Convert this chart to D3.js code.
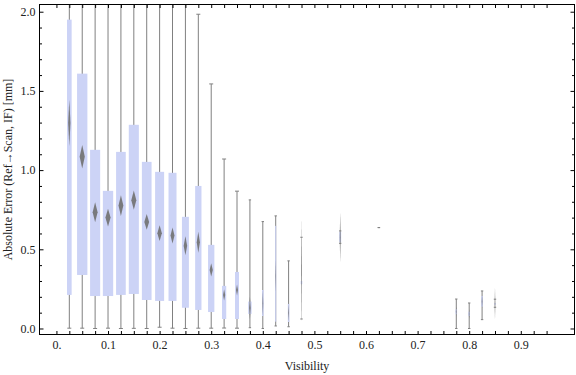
<!DOCTYPE html>
<html>
<head>
<meta charset="utf-8">
<script src="https://cdn.jsdelivr.net/npm/d3@7"></script>
<style>
  body { margin: 0; background: #fff; }
  text { font-family: "Liberation Serif", "Times New Roman", serif; font-size: 12px; fill: #222; }
</style>
</head>
<body>
<script>
// visibility bins (box centres)
var visibility = [0.025, 0.05, 0.075, 0.1, 0.125, 0.15, 0.175, 0.2, 0.225, 0.25,
    0.275, 0.3, 0.325, 0.35, 0.375, 0.4, 0.425, 0.45, 0.475, 0.55,
    0.625, 0.775, 0.8, 0.825, 0.85];

var minVal = [0.002, 0.002, 0.0, 0.002, 0.0, 0.001, 0.0, 0.008, 0.002, 0.0,
    0.002, 0.002, 0.003, 0.002, 0.005, 0.0, 0.016, 0.011, 0.06, 0.538,
    0.637, 0.0, 0.0, 0.056, 0.134];
var q1Val = [0.212, 0.338, 0.205, 0.205, 0.212, 0.218, 0.18, 0.174, 0.174, 0.131,
    0.117, 0.104, 0.06, 0.06, 0.092, 0.079, 0.043, 0.041, 0.28, 0.545,
    0.637, 0.09, 0.079, 0.138, 0.15];
var q3Val = [1.95, 1.609, 1.128, 0.869, 1.115, 1.286, 1.052, 0.989, 0.983, 0.705,
    0.90, 0.528, 0.269, 0.357, 0.17, 0.243, 0.648, 0.155, 0.30, 0.61,
    0.637, 0.121, 0.106, 0.205, 0.16];
var maxVal = [3.2, 2.9, 2.6, 2.5, 2.7, 2.8, 2.4, 2.3, 2.2, 2.1,
    1.984, 1.544, 1.07, 0.867, 0.812, 0.675, 0.711, 0.427, 0.576, 0.616,
    0.637, 0.186, 0.161, 0.237, 0.185];
// mean and half-width of its 95% confidence interval (diamond)
var meanVal = [1.297, 1.084, 0.734, 0.70, 0.776, 0.81, 0.673, 0.602, 0.587, 0.523,
    0.545, 0.37, 0.212, 0.243, 0.13, 0.16, 0.33, 0.10, 0.368, 0.575,
    0.637, 0.105, 0.092, 0.17, 0.157];
var meanCI = [0.147, 0.074, 0.063, 0.056, 0.065, 0.061, 0.05, 0.05, 0.05, 0.06,
    0.066, 0.042, 0.035, 0.035, 0.07, 0.08, 0.10, 0.06, 0.335, 0.159,
    0, 0.03, 0.03, 0.04, 0.099];
// relative sample weight -> box width
var weight = [0.36, 0.80, 0.78, 0.80, 0.75, 0.78, 0.75, 0.70, 0.62, 0.54,
    0.49, 0.49, 0.33, 0.31, 0.26, 0.12, 0.08, 0.12, 0.12, 0.15,
    0.15, 0.12, 0.12, 0.12, 0.12];
// whisker opacity (sparse bins drawn faint)
var whiskerAlpha = [1, 1, 1, 1, 1, 1, 1, 1, 1, 1,
    1, 1, 1, 1, 1, 1, 1, 1, 0.2, 0.2,
    1, 1, 1, 1, 0.2];

var xLabelTicks = [0, 0.1, 0.2, 0.3, 0.4, 0.5, 0.6, 0.7, 0.8, 0.9];
var yMajorTicks = [0, 0.5, 1.0, 1.5, 2.0];

var svgWidth = 576;
var svgHeight = 375;

var frame = { left: 39.5, right: 574.5, top: 4.5, bottom: 334.5 };

var data = visibility.map(function(v, i) {
    return { x: v, min: minVal[i], q1: q1Val[i], q3: q3Val[i], max: maxVal[i],
        mean: meanVal[i], ci: meanCI[i], w: weight[i], wa: whiskerAlpha[i] };
});

var xScale = d3.scaleLinear()
    .domain([-0.0328, 1.0041])
    .range([frame.left, frame.right]);

var yScale = d3.scaleLinear()
    .domain([-0.0379, 2.0455])
    .range([frame.bottom, frame.top]);

var spacing = xScale(0.025) - xScale(0);
var widthScale = d3.scaleLinear().domain([0, 1]).range([0, spacing]);

var svg = d3.select('body')
    .append('svg')
    .attr('width', svgWidth)
    .attr('height', svgHeight);

svg.append('clipPath')
    .attr('id', 'plotClip')
    .append('rect')
    .attr('x', frame.left)
    .attr('y', frame.top)
    .attr('width', frame.right - frame.left)
    .attr('height', frame.bottom - frame.top);

var plot = svg.append('g').attr('clip-path', 'url(#plotClip)');

var boxes = plot.selectAll('g.box')
    .data(data)
    .enter()
    .append('g')
    .attr('class', 'box');

// whiskers
boxes.append('line')
    .attr('x1', d => xScale(d.x))
    .attr('x2', d => xScale(d.x))
    .attr('y1', d => yScale(d.min))
    .attr('y2', d => yScale(d.max))
    .attr('stroke', '#808080')
    .attr('stroke-opacity', d => d.wa)
    .attr('stroke-width', 1);

// fences
[['min'], ['max']].forEach(function(k) {
    boxes.append('line')
        .attr('x1', d => xScale(d.x) - (d.w >= 0.3 ? 2 : 1.2))
        .attr('x2', d => xScale(d.x) + (d.w >= 0.3 ? 2 : 1.2))
        .attr('y1', d => yScale(d[k[0]]))
        .attr('y2', d => yScale(d[k[0]]))
        .attr('stroke', '#808080')
        .attr('stroke-width', 1);
});

// quartile boxes
boxes.append('rect')
    .attr('x', d => xScale(d.x) - widthScale(d.w) / 2)
    .attr('width', d => widthScale(d.w))
    .attr('y', d => yScale(d.q3))
    .attr('height', d => yScale(d.q1) - yScale(d.q3))
    .attr('fill', '#ccd3f6');

// mean diamonds
boxes.append('path')
    .attr('d', function(d) {
        var cx = xScale(d.x), hw = widthScale(d.w) / 4;
        var yt = yScale(d.mean + d.ci), yb = yScale(d.mean - d.ci), ym = yScale(d.mean);
        return 'M' + cx + ',' + yt + 'L' + (cx + hw) + ',' + ym + 'L' + cx + ',' + yb +
            'L' + (cx - hw) + ',' + ym + 'Z';
    })
    .attr('fill', '#707070')
    .attr('fill-opacity', 0.9);

// axes (ticks inside the frame)
var xTickVals = d3.range(0, 39).map(i => i * 0.025);

var bottomAxis = d3.axisBottom(xScale)
    .tickValues(xTickVals)
    .tickSize(-3.5)
    .tickPadding(6)
    .tickFormat(function(v, i) {
        if (i % 4 !== 0) return '';
        return v === 0 ? '0.' : d3.format('.1f')(v);
    });

var topAxis = d3.axisTop(xScale)
    .tickValues(xTickVals)
    .tickSize(-3.5)
    .tickFormat('');

svg.append('g')
    .attr('transform', `translate(0, ${frame.bottom})`)
    .call(bottomAxis);

svg.append('g')
    .attr('transform', `translate(0, ${frame.top})`)
    .call(topAxis);

var yMinor = d3.range(0, 21).map(i => i / 10).filter(v => Math.round(v * 10) % 5 !== 0);

svg.append('g')
    .attr('transform', `translate(${frame.left}, 0)`)
    .call(d3.axisLeft(yScale).tickValues(yMajorTicks).tickSize(-4).tickPadding(4)
        .tickFormat(d3.format('.1f')));

svg.append('g')
    .attr('transform', `translate(${frame.left}, 0)`)
    .call(d3.axisLeft(yScale).tickValues(yMinor).tickSize(-2.5).tickFormat(''));

svg.append('g')
    .attr('transform', `translate(${frame.right}, 0)`)
    .call(d3.axisRight(yScale).tickValues(yMajorTicks).tickSize(-4).tickFormat(''));

svg.append('g')
    .attr('transform', `translate(${frame.right}, 0)`)
    .call(d3.axisRight(yScale).tickValues(yMinor).tickSize(-2.5).tickFormat(''));

svg.selectAll('.domain').remove();
svg.selectAll('.tick line').attr('stroke', '#000');
svg.selectAll('.tick text')
    .attr('font-family', '"Liberation Serif", serif')
    .attr('font-size', '12px')
    .attr('fill', '#222');

// frame
svg.append('rect')
    .attr('x', frame.left)
    .attr('y', frame.top)
    .attr('width', frame.right - frame.left)
    .attr('height', frame.bottom - frame.top)
    .attr('fill', 'none')
    .attr('stroke', '#000')
    .attr('stroke-width', 1);

// axis titles
svg.append('text')
    .attr('x', (frame.left + frame.right) / 2)
    .attr('y', 370)
    .attr('text-anchor', 'middle')
    .text('Visibility');

svg.append('text')
    .attr('transform', `translate(12, ${(frame.top + frame.bottom) / 2}) rotate(-90)`)
    .attr('text-anchor', 'middle')
    .text('Absolute Error (Ref\u2192Scan, IF) [mm]');
</script>
</body>
</html>
